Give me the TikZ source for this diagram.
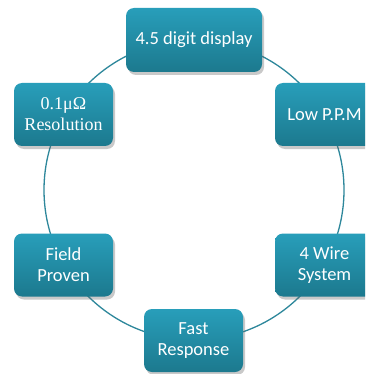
\documentclass[tikz,border=0pt]{standalone}
\usepackage{fontspec}
\setmainfont{Carlito}
\newfontfamily\serifface{Liberation Serif}
\usetikzlibrary{shadows}
\definecolor{boxtop}{RGB}{40,158,186}
\definecolor{boxbot}{RGB}{28,121,142}
\definecolor{ringcol}{RGB}{45,135,155}
\tikzset{
  cyclebox/.style={draw=none, rounded corners=8pt, top color=boxtop, bottom color=boxbot,
    text=white, align=center, font=\fontsize{18.5}{21}\selectfont,
    minimum width=99pt, minimum height=63pt, inner sep=2pt,
    drop shadow={shadow xshift=2pt, shadow yshift=-3pt, opacity=0.35, fill=black!60}},
  ring/.style={draw=ringcol, line width=1.3pt}
}
\begin{document}
\begin{tikzpicture}[x=1pt,y=-1pt]
\useasboundingbox (0,0) rectangle (365,374);
\clip (0,0) rectangle (365,374);
\fill[white] (0,0) rectangle (365,374);
\coordinate (c) at (194,190);
\draw[ring] (c) circle[radius=150pt];
\node[cyclebox, minimum width=136pt, minimum height=64pt] (disp) at (194,40) {4.5 digit display};
\node[cyclebox, font=\serifface\fontsize{18}{21}\selectfont] (res) at (63.5,114.5) {0.1μΩ\\Resolution};
\node[cyclebox] (ppm) at (324.5,114.5) {Low P.P.M};
\node[cyclebox] (field) at (63.5,265) {Field\\Proven};
\node[cyclebox] (wire) at (324.5,265) {4 Wire\\System};
\node[cyclebox] (fast) at (193.5,340.5) {Fast\\Response};
\end{tikzpicture}
\end{document}
